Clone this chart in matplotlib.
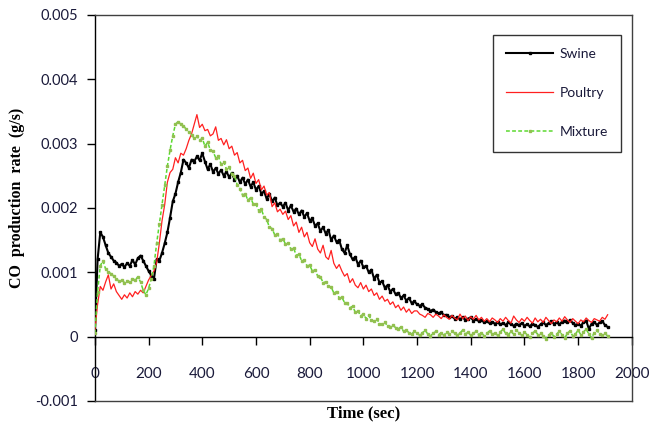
import numpy as np
import matplotlib
matplotlib.use('Agg')
import matplotlib.pyplot as plt

# Tiempo (s), muestreo cada 10 s
time_s = np.arange(0, 1920, 10)

# Tasas de producción de CO en mg/s
swine_mg = [
    0.10, 1.20, 1.62, 1.55, 1.42, 1.30, 1.24, 1.18, 1.15, 1.10,
    1.13, 1.08, 1.14, 1.10, 1.19, 1.12, 1.22, 1.26, 1.18, 1.10,
    1.02, 0.95, 0.90, 1.20, 1.18, 1.30, 1.45, 1.62, 1.85, 2.10,
    2.22, 2.40, 2.55, 2.75, 2.70, 2.62, 2.75, 2.72, 2.80, 2.74,
    2.85, 2.72, 2.60, 2.68, 2.56, 2.62, 2.53, 2.59, 2.50, 2.56,
    2.48, 2.54, 2.44, 2.50, 2.40, 2.47, 2.37, 2.44, 2.33, 2.40,
    2.28, 2.34, 2.22, 2.26, 2.14, 2.22, 2.10, 2.16, 2.04, 2.08,
    2.02, 2.08, 1.96, 2.04, 1.94, 1.99, 1.90, 1.96, 1.86, 1.92,
    1.80, 1.84, 1.72, 1.76, 1.64, 1.70, 1.60, 1.66, 1.50, 1.57,
    1.47, 1.50, 1.36, 1.30, 1.42, 1.28, 1.20, 1.24, 1.12, 1.18,
    1.08, 1.10, 1.00, 1.04, 0.90, 0.96, 0.84, 0.86, 0.76, 0.80,
    0.70, 0.74, 0.66, 0.68, 0.60, 0.64, 0.56, 0.60, 0.52, 0.55,
    0.50, 0.48, 0.50, 0.45, 0.43, 0.40, 0.42, 0.38, 0.36, 0.38,
    0.33, 0.34, 0.30, 0.32, 0.28, 0.30, 0.27, 0.30, 0.26, 0.28,
    0.30, 0.25, 0.27, 0.24, 0.26, 0.22, 0.24, 0.21, 0.23, 0.20,
    0.22, 0.19, 0.21, 0.18, 0.22, 0.19, 0.17, 0.20, 0.18, 0.21,
    0.17, 0.19, 0.16, 0.20, 0.18, 0.15, 0.19, 0.22, 0.18, 0.21,
    0.24, 0.20, 0.22, 0.19, 0.23, 0.25, 0.22, 0.26, 0.21, 0.18,
    0.20, 0.17, 0.22, 0.25, 0.12, 0.20, 0.23, 0.18, 0.22, 0.24,
    0.18, 0.15,
]

poultry_mg = [
    0.10, 0.50, 0.78, 0.72, 0.85, 0.96, 0.74, 0.82, 0.70, 0.64,
    0.58, 0.65, 0.60, 0.68, 0.62, 0.70, 0.66, 0.72, 0.68, 0.78,
    0.88, 0.95, 1.02, 1.15, 1.45, 1.80, 2.05, 2.40, 2.55, 2.60,
    2.78, 2.70, 2.85, 2.82, 2.92, 3.05, 3.15, 3.30, 3.45, 3.25,
    3.30, 3.20, 3.22, 3.12, 3.15, 3.26, 3.05, 3.08, 2.98, 3.06,
    2.92, 2.96, 2.82, 2.86, 2.70, 2.74, 2.58, 2.62, 2.46, 2.54,
    2.38, 2.44, 2.28, 2.34, 2.20, 2.24, 2.02, 2.08, 1.94, 1.98,
    1.90, 1.95, 1.82, 1.88, 1.72, 1.78, 1.62, 1.70, 1.55, 1.62,
    1.46, 1.40, 1.52, 1.36, 1.30, 1.42, 1.24, 1.20, 1.34, 1.14,
    1.06, 1.12, 1.02, 0.94, 0.98, 0.84, 0.90, 0.80, 0.76, 0.84,
    0.74, 0.80, 0.70, 0.74, 0.64, 0.68, 0.58, 0.63, 0.55, 0.58,
    0.50, 0.54, 0.45, 0.49, 0.41, 0.46, 0.38, 0.43, 0.36, 0.40,
    0.40, 0.35, 0.33, 0.30, 0.36, 0.34, 0.30, 0.35, 0.32, 0.28,
    0.34, 0.30, 0.27, 0.33, 0.29, 0.26, 0.35, 0.28, 0.32, 0.25,
    0.31, 0.27, 0.33, 0.26, 0.30, 0.24, 0.28, 0.23, 0.29, 0.26,
    0.22, 0.28, 0.24, 0.30, 0.25, 0.21, 0.32, 0.26, 0.22, 0.28,
    0.24, 0.30, 0.25, 0.21, 0.29, 0.23, 0.27, 0.22, 0.30, 0.25,
    0.20, 0.26, 0.23, 0.29, 0.24, 0.31, 0.26, 0.22, 0.28, 0.24,
    0.20, 0.26, 0.23, 0.29, 0.25, 0.22, 0.28, 0.26, 0.24, 0.30,
    0.27, 0.34,
]

mixture_mg = [
    0.05, 0.70, 1.10, 1.18, 1.05, 1.00, 0.98, 0.94, 0.90, 0.86,
    0.88, 0.84, 0.87, 0.85, 0.90, 0.88, 0.93, 0.85, 0.72, 0.65,
    0.75, 0.90, 1.10, 1.45, 1.75, 2.05, 2.35, 2.65, 2.90, 3.12,
    3.30, 3.34, 3.30, 3.28, 3.22, 3.18, 3.14, 3.08, 3.12, 3.05,
    3.08, 2.96, 3.02, 2.90, 2.88, 2.78, 2.80, 2.68, 2.72, 2.60,
    2.64, 2.52, 2.50, 2.36, 2.30, 2.20, 2.22, 2.12, 2.16, 2.06,
    2.06, 1.96, 1.98, 1.86, 1.82, 1.70, 1.68, 1.58, 1.60, 1.50,
    1.52, 1.44, 1.46, 1.36, 1.38, 1.26, 1.28, 1.18, 1.19, 1.10,
    1.11, 1.02, 1.04, 0.94, 0.93, 0.84, 0.85, 0.78, 0.77, 0.68,
    0.70, 0.60, 0.61, 0.53, 0.52, 0.45, 0.47, 0.38, 0.40, 0.32,
    0.35, 0.28, 0.33, 0.26, 0.24, 0.28, 0.20, 0.19, 0.23, 0.16,
    0.15, 0.18, 0.14, 0.12, 0.15, 0.08, 0.10, 0.06, 0.04, 0.08,
    0.05, 0.02, 0.06, 0.10, 0.04, 0.01, 0.05, 0.08, 0.03, 0.06,
    0.02, 0.07, 0.04, 0.09, 0.05, 0.02, 0.06, 0.10, 0.04, 0.07,
    0.02, 0.05, 0.08, 0.03, 0.06, 0.01, 0.05, 0.09, 0.04, 0.06,
    0.02, 0.07, 0.12, 0.05, 0.03, 0.08, 0.04, 0.10, 0.06, 0.02,
    0.07, 0.03, -0.01, 0.05, 0.09, 0.03, 0.06, 0.01, -0.03, 0.02,
    0.06, 0.00, 0.04, 0.08, 0.03, -0.02, 0.05, 0.09, 0.01, 0.04,
    0.10, 0.03, 0.07, 0.12, 0.04, -0.02, 0.06, 0.10, 0.04, 0.02,
    0.05, 0.01,
]

# Convertir mg/s -> g/s
swine = np.array(swine_mg) / 1000
poultry = np.array(poultry_mg) / 1000
mixture = np.array(mixture_mg) / 1000

x_ticks = np.arange(0, 2001, 200)
y_ticks = [-0.001, 0, 0.001, 0.002, 0.003, 0.004, 0.005]
y_tick_labels = ['-0.001', '0', '0.001', '0.002', '0.003', '0.004', '0.005']

tick_font = 'Lato'
tick_color = '#1a1a3a'

fig = plt.figure(figsize=(6.5, 4.25), dpi=100)
ax = fig.add_axes([0.146, 0.0565, 0.826, 0.9085])

ax.plot(time_s, swine, color='black', lw=1.5, marker='s', ms=1.5,
        mec='black', mfc='black', label='Swine', zorder=3)
ax.plot(time_s, poultry, color='#ff2020', lw=0.9, label='Poultry', zorder=4)
ax.plot(time_s, mixture, color='#5cd830', lw=1.1, ls=(0, (2.5, 1.5)),
        marker='s', ms=1.5, mec='#92c050', mfc='#92c050',
        label='Mixture', zorder=5)

ax.set_xlim(0, 2000)
ax.set_ylim(-0.001, 0.005)

# Eje x cruza en y = 0
ax.spines['bottom'].set_position(('data', 0))
ax.spines['bottom'].set_color('black')
ax.spines['left'].set_color('black')
ax.spines['top'].set_color('#404040')
ax.spines['right'].set_color('#404040')
for s in ax.spines.values():
    s.set_linewidth(1.0)
# Borde inferior del área de trazado
ax.plot([0, 1], [0, 0], transform=ax.transAxes, color='#404040',
        lw=1.0, clip_on=False, zorder=6)

ax.set_xticks(x_ticks)
ax.set_xticklabels([str(v) for v in x_ticks])
ax.set_yticks(y_ticks)
ax.set_yticklabels(y_tick_labels)
ax.tick_params(axis='x', direction='out', length=6, width=1, pad=16)
ax.tick_params(axis='y', direction='out', length=6, width=1, pad=6)
for lab in ax.get_xticklabels():
    lab.set_fontfamily(tick_font)
    lab.set_fontsize(11)
    lab.set_color(tick_color)
for lab in ax.get_yticklabels():
    lab.set_fontfamily(tick_font)
    lab.set_fontsize(10.5)
    lab.set_color(tick_color)

ax.set_xlabel('Time (sec)', family='Liberation Serif', fontweight='bold',
              fontsize=12)
ax.xaxis.set_label_coords(0.5, -0.012)
ax.set_ylabel('CO  production  rate  (g/s)', family='Liberation Serif',
              fontweight='bold', fontsize=11.5)
ax.yaxis.set_label_coords(-0.13, 0.526)

leg = ax.legend(loc='upper right', bbox_to_anchor=(0.98, 0.948),
                frameon=True, fancybox=False, edgecolor='black',
                prop={'family': tick_font, 'size': 10},
                labelspacing=1.95, handlelength=3.4, handletextpad=0.45,
                borderpad=0.95, borderaxespad=0)
leg.get_frame().set_linewidth(1.0)
for t in leg.get_texts():
    t.set_color(tick_color)

fig.savefig('out.png', dpi=100)
